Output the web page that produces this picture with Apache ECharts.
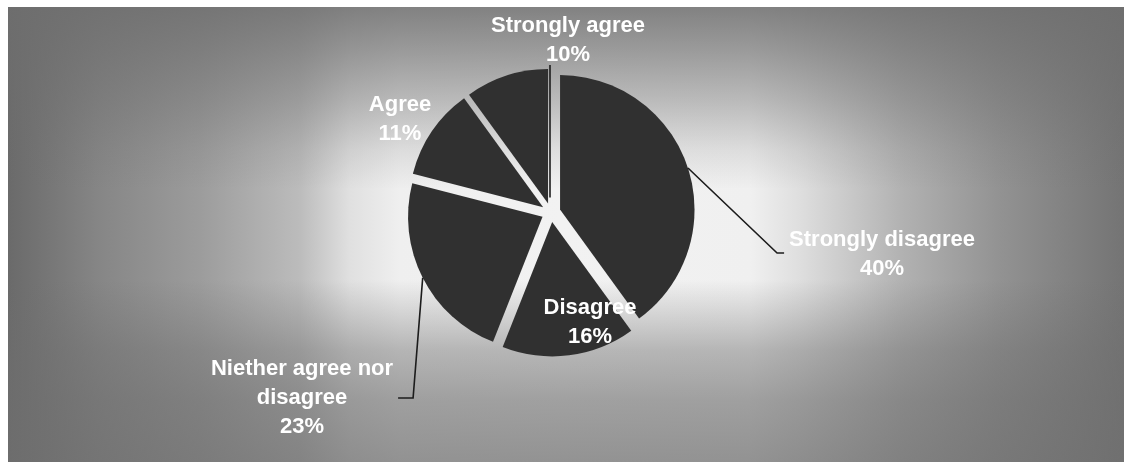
<!DOCTYPE html>
<html>
<head>
<meta charset="utf-8">
<title>Survey responses</title>
<script src="https://cdn.jsdelivr.net/npm/echarts@6/dist/echarts.min.js"></script>
<style>
  html, body { margin: 0; padding: 0; background: #ffffff; }
  #chart { width: 1124px; height: 462px; }
</style>
</head>
<body>
<div id="chart"></div>
<script>
// Response categories, clockwise from 12 o'clock
const categories = [
  'Strongly disagree',
  'Disagree',
  'Niether agree nor\ndisagree',
  'Agree',
  'Strongly agree'
];
// Share of respondents, percent
const percents = [40, 16, 23, 11, 10];

// Label placement (centre of each text block) and leader-line style
const labelPlacement = [
  { x: 882, y: 254, line: 'left' },
  { x: 590, y: 322, line: null },
  { x: 302, y: 398, line: 'right' },
  { x: 400, y: 119, line: null },
  { x: 568, y: 40,  line: 'down' }
];

const PIE_CENTER = [551, 212.5];
const PIE_RADIUS = 134.5;
const EXPLODE = 9.5;
const SLICE = '#303030';

const chart = echarts.init(document.getElementById('chart'), null, { renderer: 'canvas' });

// Exploded slices
const sliceData = categories.map(function (name, i) {
  return { name: name, value: percents[i], selected: true };
});

// Same values again, used only to carry the labels and leader lines
const labelData = categories.map(function (name, i) {
  const item = { name: name, value: percents[i] };
  if (i === 1) {
    item.label = { position: 'inside' };
    item.labelLine = { show: false };
  }
  if (i === 3) {
    item.labelLine = { show: false };
  }
  return item;
});

// Push a leader-line anchor out to the edge of its exploded slice
function toExplodedEdge(pt) {
  const dx = pt[0] - PIE_CENTER[0];
  const dy = pt[1] - PIE_CENTER[1];
  const len = Math.sqrt(dx * dx + dy * dy) || 1;
  return [pt[0] + dx / len * EXPLODE, pt[1] + dy / len * EXPLODE];
}

chart.setOption({
  animation: false,
  backgroundColor: '#ffffff',
  graphic: [
    {
      type: 'rect',
      silent: true,
      z: 0,
      shape: { x: 8, y: 7, width: 1116, height: 455 },
      style: {
        fill: new echarts.graphic.LinearGradient(0, 0, 1, 0, [
          { offset: 0.000, color: '#6a6a6a' },
          { offset: 0.082, color: '#868686' },
          { offset: 0.172, color: '#9c9c9c' },
          { offset: 0.262, color: '#bcbcbc' },
          { offset: 0.306, color: '#e0e0e0' },
          { offset: 0.351, color: '#efefef' },
          { offset: 0.495, color: '#f2f2f2' },
          { offset: 0.665, color: '#f0f0f0' },
          { offset: 0.710, color: '#dedede' },
          { offset: 0.800, color: '#b2b2b2' },
          { offset: 0.889, color: '#929292' },
          { offset: 1.000, color: '#747474' }
        ])
      }
    },
    {
      type: 'rect',
      silent: true,
      z: 1,
      shape: { x: 8, y: 7, width: 1116, height: 455 },
      style: {
        fill: new echarts.graphic.LinearGradient(0, 0, 0, 1, [
          { offset: 0.000, color: 'rgba(110,110,110,0.85)' },
          { offset: 0.095, color: 'rgba(110,110,110,0.66)' },
          { offset: 0.204, color: 'rgba(110,110,110,0.42)' },
          { offset: 0.314, color: 'rgba(110,110,110,0.15)' },
          { offset: 0.400, color: 'rgba(110,110,110,0.00)' },
          { offset: 0.600, color: 'rgba(110,110,110,0.00)' },
          { offset: 0.754, color: 'rgba(110,110,110,0.45)' },
          { offset: 0.864, color: 'rgba(110,110,110,0.62)' },
          { offset: 1.000, color: 'rgba(110,110,110,0.72)' }
        ])
      }
    }
  ],
  series: [
    {
      type: 'pie',
      z: 5,
      center: PIE_CENTER,
      radius: PIE_RADIUS,
      startAngle: 90,
      clockwise: true,
      selectedMode: 'multiple',
      selectedOffset: EXPLODE,
      silent: true,
      emphasis: { disabled: true },
      itemStyle: { color: SLICE, borderWidth: 0 },
      select: { itemStyle: { color: SLICE, borderWidth: 0 } },
      label: { show: false },
      labelLine: { show: false },
      data: sliceData
    },
    {
      type: 'pie',
      z: 6,
      center: PIE_CENTER,
      radius: PIE_RADIUS,
      startAngle: 90,
      clockwise: true,
      selectedMode: false,
      avoidLabelOverlap: false,
      silent: true,
      emphasis: { disabled: true },
      itemStyle: { color: 'rgba(0,0,0,0)', borderWidth: 0 },
      label: {
        show: true,
        position: 'outside',
        formatter: '{b}\n{c}%',
        color: '#ffffff',
        fontFamily: '"Liberation Sans", Arial, sans-serif',
        fontWeight: 'bold',
        fontSize: 22,
        lineHeight: 29,
        align: 'center'
      },
      labelLine: {
        show: true,
        length: 20,
        length2: 10,
        lineStyle: { color: '#1c1c1c', width: 1.6 }
      },
      labelLayout: function (p) {
        const pos = labelPlacement[p.dataIndex];
        const w = p.labelRect.width;
        const h = p.labelRect.height;
        const out = { x: pos.x, y: pos.y, align: 'center', verticalAlign: 'middle' };
        const anchor = p.labelLinePoints && p.labelLinePoints[0];
        if (pos.line === 'left' && anchor) {
          const ex = pos.x - w / 2 - 5;
          out.labelLinePoints = [toExplodedEdge(anchor), [ex - 7, pos.y - 1], [ex, pos.y - 1]];
        } else if (pos.line === 'right' && anchor) {
          const ex = pos.x + w / 2 + 5;
          out.labelLinePoints = [toExplodedEdge(anchor), [ex + 15, pos.y], [ex, pos.y]];
        } else if (pos.line === 'down' && p.rect) {
          const r = p.rect;
          const lx = r.x + r.width - 1;
          const top = pos.y + h / 2 - 4;
          out.labelLinePoints = [[lx, r.y + r.height - 15], [lx, top], [lx, top]];
        }
        return out;
      },
      data: labelData
    }
  ]
});
</script>
</body>
</html>
